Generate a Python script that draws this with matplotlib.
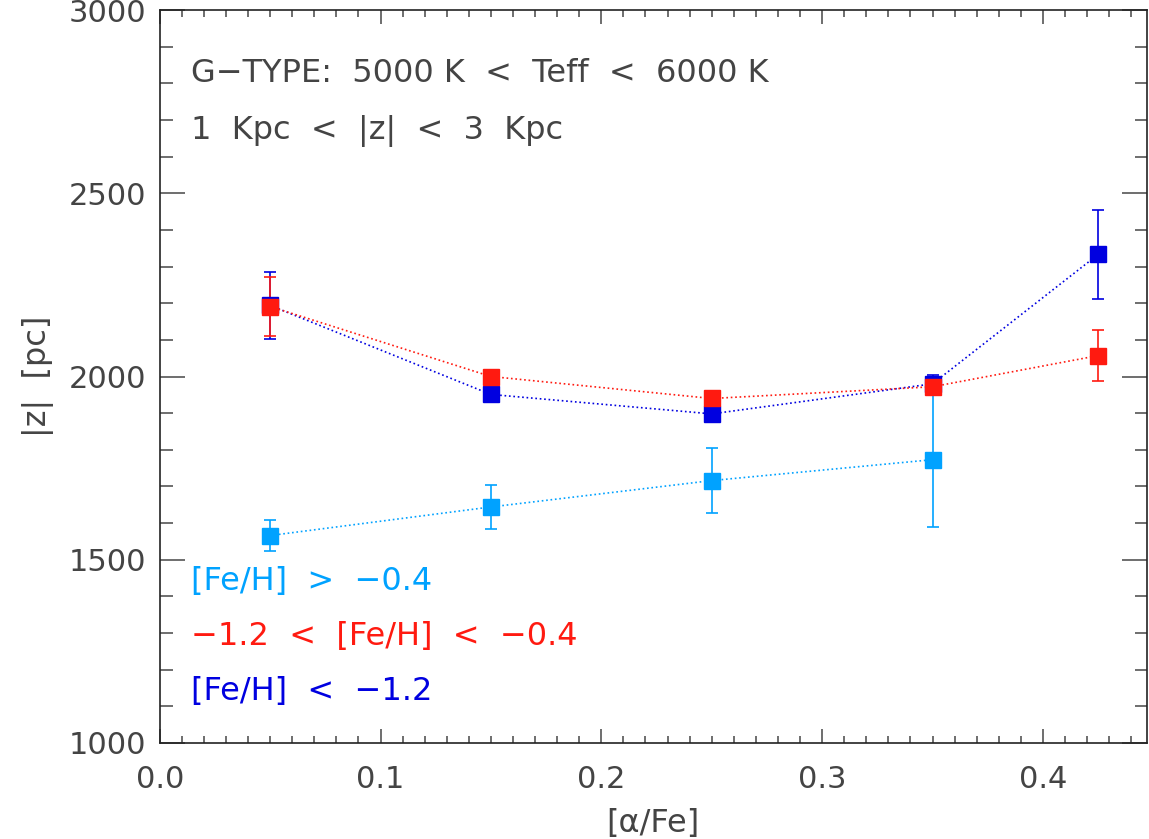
import matplotlib
matplotlib.use('Agg')
import matplotlib.pyplot as plt
from matplotlib.ticker import MultipleLocator

# [alpha/Fe] bins
alpha_fe = [0.05, 0.15, 0.25, 0.35, 0.425]

# |z| per metallicity group, with errors
z_metal_rich = [1566, 1644, 1716, 1773]
err_metal_rich = [43, 61, 89, 183]
z_inter = [2191, 2000, 1940, 1972, 2057]
err_inter = [80, 15, 15, 15, 70]
z_metal_poor = [2194, 1951, 1898, 1980, 2333]
err_metal_poor = [92, 15, 15, 25, 122]

labels = ['[Fe/H]  >  \u22120.4', '\u22121.2  <  [Fe/H]  <  \u22120.4', '[Fe/H]  <  \u22121.2']
colors = ['#00a2ff', '#ff1a10', '#0000e0']
text_color = '#444444'

plt.rcParams['font.family'] = ['DejaVu Sans']

fig = plt.figure(figsize=(11.49, 8.39), dpi=100)
ax = fig.add_axes([0.139, 0.1145, 0.859, 0.8735])

series = [
    (alpha_fe[:4], z_metal_rich, err_metal_rich, colors[0]),
    (alpha_fe, z_metal_poor, err_metal_poor, colors[2]),
    (alpha_fe, z_inter, err_inter, colors[1]),
]
for xs, ys, es, c in series:
    ax.errorbar(xs, ys, yerr=es, color=c, marker='s', markersize=12,
                linestyle=':', linewidth=1.2, elinewidth=1.2, capsize=4, capthick=1.2)

ax.set_xlim(0, 0.447)
ax.set_ylim(1000, 3000)
ax.xaxis.set_major_locator(MultipleLocator(0.1))
ax.xaxis.set_minor_locator(MultipleLocator(0.01))
ax.yaxis.set_major_locator(MultipleLocator(500))
ax.yaxis.set_minor_locator(MultipleLocator(100))
ax.xaxis.set_major_formatter(plt.FuncFormatter(lambda v, p: f'{v:.1f}'))

ax.tick_params(which='both', direction='in', top=True, right=True,
               colors='#555555', labelcolor=text_color, labelsize=22, width=1.2)
ax.tick_params(axis='x', which='major', length=10, pad=16)
ax.tick_params(axis='x', which='minor', length=5)
ax.tick_params(axis='y', which='major', length=18, pad=10)
ax.tick_params(axis='y', which='minor', length=9)
for s in ax.spines.values():
    s.set_color('#222222')
    s.set_linewidth(1.2)

ax.set_xlabel('[\u03b1/Fe]', fontsize=23, color=text_color, labelpad=10)
ax.set_ylabel('|z|  [pc]', fontsize=23, color=text_color, labelpad=10)

ax.text(0.032, 0.913, 'G\u2212TYPE:  5000 K  <  Teff  <  6000 K', transform=ax.transAxes,
        fontsize=23, color=text_color, va='center')
ax.text(0.032, 0.835, '1  Kpc  <  |z|  <  3  Kpc', transform=ax.transAxes,
        fontsize=23, color=text_color, va='center')

for i, (lab, c) in enumerate(zip(labels, colors)):
    ax.text(0.032, 0.22 - i * 0.075, lab, transform=ax.transAxes,
            fontsize=23, color=c, va='center')

fig.savefig('out.png', dpi=100)
